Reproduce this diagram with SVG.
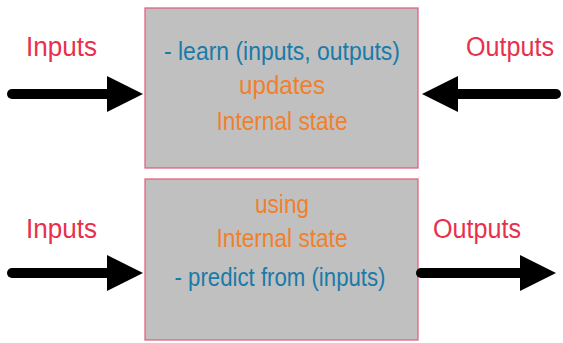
<svg xmlns="http://www.w3.org/2000/svg" width="563" height="343" viewBox="0 0 563 343">
  <defs>
    <marker id="head" viewBox="0 0 10 10" refX="0" refY="5" markerWidth="3.6" markerHeight="3.6" markerUnits="strokeWidth" orient="auto">
      <path d="M0,0 L10,5 L0,10 Z" fill="#000"/>
    </marker>
    <style>
      .box { fill: #c0c0c0; stroke: #e05a78; stroke-width: 1.2; }
      .shaft { stroke: #000; stroke-width: 10; stroke-linecap: round; fill: none; }
      .lbl { font-family: "Liberation Sans", Arial, sans-serif; font-size: 27px; fill: #e8304c; }
      .txt { font-family: "Liberation Sans", Arial, sans-serif; font-size: 25px; text-anchor: middle; }
      .blue { fill: #1a7aa8; }
      .orange { fill: #f0802c; }
    </style>
  </defs>
  <rect width="563" height="343" fill="#fff"/>

  <!-- learning block -->
  <g id="learn-box">
    <rect class="box" x="145" y="8" width="273" height="160"/>
    <text class="txt blue" x="282" y="60" textLength="236" lengthAdjust="spacingAndGlyphs">- learn (inputs, outputs)</text>
    <text class="txt orange" x="282" y="94" textLength="86" lengthAdjust="spacingAndGlyphs">updates</text>
    <text class="txt orange" x="282" y="130" textLength="131" lengthAdjust="spacingAndGlyphs">Internal state</text>
  </g>

  <!-- prediction block -->
  <g id="predict-box">
    <rect class="box" x="145" y="179" width="273" height="161"/>
    <text class="txt orange" x="282" y="213" textLength="54" lengthAdjust="spacingAndGlyphs">using</text>
    <text class="txt orange" x="282" y="247" textLength="131" lengthAdjust="spacingAndGlyphs">Internal state</text>
    <text class="txt blue" x="280" y="286" textLength="211" lengthAdjust="spacingAndGlyphs">- predict from (inputs)</text>
  </g>

  <g id="label-inputs-top"><text class="lbl" x="26" y="56" textLength="71" lengthAdjust="spacingAndGlyphs">Inputs</text></g>
  <g id="label-outputs-top"><text class="lbl" x="466" y="56" textLength="88" lengthAdjust="spacingAndGlyphs">Outputs</text></g>
  <g id="label-inputs-bottom"><text class="lbl" x="26" y="238" textLength="71" lengthAdjust="spacingAndGlyphs">Inputs</text></g>
  <g id="label-outputs-bottom"><text class="lbl" x="433" y="238" textLength="88" lengthAdjust="spacingAndGlyphs">Outputs</text></g>

  <!-- connectors -->
  <g id="connectors">
    <line class="shaft" x1="12" y1="94" x2="107" y2="94" marker-end="url(#head)"/>
    <line class="shaft" x1="556" y1="94" x2="458" y2="94" marker-end="url(#head)"/>
    <line class="shaft" x1="12" y1="273" x2="107" y2="273" marker-end="url(#head)"/>
    <line class="shaft" x1="421" y1="273" x2="520" y2="273" marker-end="url(#head)"/>
  </g>
</svg>
